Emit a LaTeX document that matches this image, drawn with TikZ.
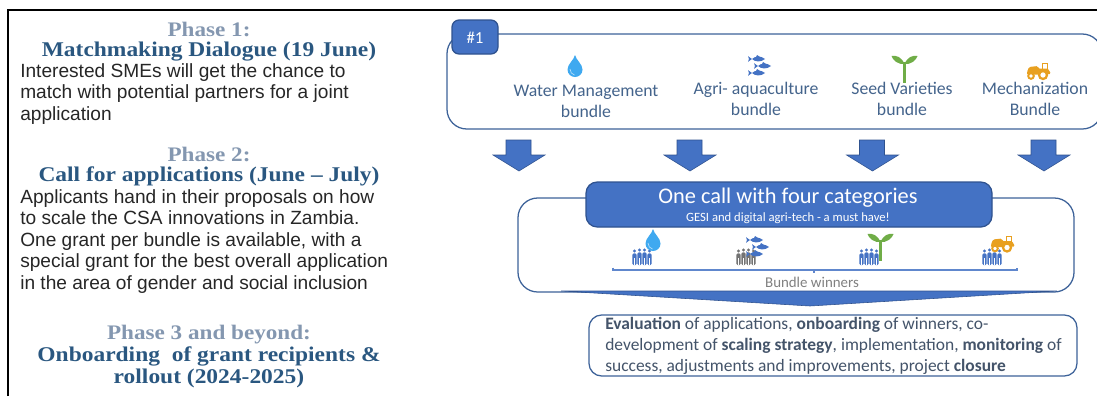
\documentclass[tikz,border=0pt]{standalone}
\usepackage{fontspec}
\setmainfont{Liberation Sans}
\newfontfamily\headingfont[FakeStretch=1.12]{Liberation Serif}
\newfontfamily\calibrifont{Carlito}
\usetikzlibrary{calc}

\definecolor{framecol}{HTML}{000000}
\definecolor{phasecol}{HTML}{8497B0}
\definecolor{titlecol}{HTML}{2A5780}
\definecolor{bodycol}{HTML}{262626}
\definecolor{boxedge}{HTML}{3D6299}
\definecolor{bannerfill}{HTML}{4472C4}
\definecolor{banneredge}{HTML}{2F528F}
\definecolor{bundlecol}{HTML}{44648C}
\definecolor{summarycol}{HTML}{44546A}
\definecolor{dropcol}{HTML}{3FA9F0}
\definecolor{sproutcol}{HTML}{70AD47}
\definecolor{tractorcol}{HTML}{E8A020}

\tikzset{
	phasehead/.style={font=\headingfont\bfseries\fontsize{14.7}{15.3}\selectfont, color=phasecol, align=center, inner sep=0},
	phasetitle/.style={font=\headingfont\bfseries\fontsize{14.9}{15.3}\selectfont, color=titlecol, align=center, inner sep=0},
	phasebody/.style={font=\fontsize{13.6}{15.3}\selectfont, color=bodycol, align=left, anchor=west, inner sep=0},
	bundlelabel/.style={font=\calibrifont\fontsize{12.6}{15}\selectfont, color=bundlecol, align=center, inner sep=0},
	roundbox/.style={draw=boxedge, line width=0.9pt, fill=white},
	bluebanner/.style={draw=banneredge, line width=0.9pt, fill=bannerfill},
	blockarrow/.style={draw=banneredge, line width=0.4pt, fill=bannerfill}
}

\def\bundlearrow(#1){\draw[blockarrow] ({#1-13}, 140) -- ({#1+12}, 140) -- ({#1+12}, 155) -- ({#1+26}, 155) -- (#1, 171) -- ({#1-26}, 155) -- ({#1-13}, 155) -- cycle;}

\def\dropicon(#1,#2){\begin{scope}[shift={(#1,#2)}]
	\fill[dropcol] (0, 0) .. controls (1, 5) and (7.5, 9) .. (7.5, 14.5) .. controls (7.5, 19) and (4, 22) .. (0, 22) .. controls (-4, 22) and (-7.5, 19) .. (-7.5, 14.5) .. controls (-7.5, 9) and (-1, 5) .. (0, 0) -- cycle;
	\draw[white!60!dropcol, line width=0.5pt] (-5, 14) .. controls (-5, 17) and (-3, 19.5) .. (-0.5, 20);
\end{scope}}

\def\onefish(#1,#2){\begin{scope}[shift={(#1,#2)}]
	\fill[bannerfill] (8, 0) .. controls (4, -3.5) and (-2, -3) .. (-5, 0) -- (-9, -2.8) -- (-8, 0) -- (-9, 2.8) -- (-5, 0) .. controls (-2, 3) and (4, 3.5) .. (8, 0) -- cycle;
	\fill[bannerfill] (-1, -2) -- (0, -4) -- (3, -2) -- cycle;
\end{scope}}

\def\fishicon(#1,#2){\onefish(#1-2,#2-7) \onefish(#1+4,#2) \onefish(#1-2,#2+7)}

\def\sprouticon(#1,#2){\begin{scope}[shift={(#1,#2)}]
	\draw[sproutcol, line width=1.6pt] (0, 7) -- (0, 28);
	\fill[sproutcol] (0, 9) .. controls (-3, 2) and (-8, 0) .. (-13, 1) .. controls (-12, 5) and (-6, 10) .. (0, 9) -- cycle;
	\fill[sproutcol] (0, 9) .. controls (3, 2) and (8, 0) .. (13, 1) .. controls (12, 5) and (6, 10) .. (0, 9) -- cycle;
\end{scope}}

\def\tractoricon(#1,#2){\begin{scope}[shift={(#1,#2)}]
	\draw[tractorcol, line width=0.7pt] (4, -2) -- (4, -7.5) -- (9, -7.5) -- (9, -2);
	\fill[tractorcol, rounded corners=1] (-11, 1) -- (-9, -4) -- (0, -5) -- (0, -2.5) -- (10, -2.5) -- (13, 3) -- (-11, 4) -- cycle;
	\draw[tractorcol, fill=white, line width=1.4pt] (-7, 5) circle (2.8);
	\draw[tractorcol, fill=white, line width=1.6pt] (5, 4) circle (4);
\end{scope}}

\def\peopleicon(#1,#2)#3{\begin{scope}[shift={(#1,#2)}]
	\foreach \posx/\high in {-7.5/0, -2.5/-1, 2.5/-1, 7.5/0} {
		\fill[#3] (\posx, {\high-6}) circle (1.7);
		\fill[#3, rounded corners=1] ({\posx-2.2}, {\high-3.6}) rectangle ({\posx+2.2}, 8);
		\draw[white, line width=0.3pt] (\posx, 1) -- (\posx, 8);
	}
\end{scope}}

\begin{document}
\begin{tikzpicture}[x=0.025cm, y=-0.025cm]
	\useasboundingbox (0, 0) rectangle (1097, 396);

	%%%%% LEFT COLUMN %%%%%

	\node[phasehead] (phaseone) at (209, 29) {Phase 1:};
	\node[phasetitle] (titleone) at (209, 51.5) {Matchmaking Dialogue (19 June)};
	\node[phasebody] (bodyone) at (20, 94) {Interested SMEs will get the chance to\\match with potential partners for a joint\\application};

	\node[phasehead] (phasetwo) at (209, 154) {Phase 2:};
	\node[phasetitle] (titletwo) at (209, 176.5) {Call for applications (June – July)};
	\node[phasebody] (bodytwo) at (20, 241.5) {Applicants hand in their proposals on how\\to scale the CSA innovations in Zambia.\\One grant per bundle is available, with a\\special grant for the best overall application\\in the area of gender and social inclusion};

	\node[phasehead] (phasethree) at (209, 335) {Phase 3 and beyond:};
	\node[phasetitle] (titlethree) at (209, 367.5) {Onboarding\ \ of grant recipients \&\\rollout (2024-2025)};

	%%%%% BUNDLES %%%%%

	\draw[roundbox, rounded corners=14] (447, 34) rectangle (1102, 129);
	\draw[bluebanner, rounded corners=5] (452, 20) rectangle (498, 54);
	\node[font=\calibrifont\fontsize{12}{15}\selectfont, color=white, inner sep=0] (badge) at (475, 38) {\#1};

	\dropicon(575,55)
	\fishicon(759,66)
	\sprouticon(904.5,55)
	\tractoricon(1038,71)

	\node[bundlelabel] (waterlabel) at (586, 101.5) {Water Management\\bundle};
	\node[bundlelabel] (fishlabel) at (756, 98.5) {Agri- aquaculture\\bundle};
	\node[bundlelabel] (seedlabel) at (902, 98.5) {Seed Varieties\\bundle};
	\node[bundlelabel] (machinelabel) at (1035, 98.5) {Mechanization\\Bundle};

	\bundlearrow(519)
	\bundlearrow(690)
	\bundlearrow(872.5)
	\bundlearrow(1044)

	%%%%% CALL %%%%%

	\draw[roundbox, rounded corners=14] (518, 198) rectangle (1074, 292);
	\draw[bluebanner, rounded corners=8] (586, 182) rectangle (992, 227);
	\node[font=\calibrifont\fontsize{15.9}{15}\selectfont, color=white, inner sep=0] (calltitle) at (788, 198) {One call with four categories};
	\node[font=\calibrifont\fontsize{9}{10}\selectfont, color=white, inner sep=0] (callnote) at (788, 218) {GESI and digital agri-tech - a must have!};

	\peopleicon(642,257){bannerfill}
	\dropicon(653,229)
	\peopleicon(746,257){black!55}
	\fishicon(757,247)
	\peopleicon(869,257){bannerfill}
	\sprouticon(880.5,233)
	\peopleicon(992,257){bannerfill}
	\tractoricon(1002,243.5)

	\draw[bannerfill!85!white, line width=1.1pt] (613, 267.5) -- (613, 270) -- (1017, 270) -- (1017, 267.5);
	\draw[bannerfill!85!white, line width=1.1pt] (814, 270) -- (814, 272.5);
	\node[font=\calibrifont\fontsize{10.6}{11}\selectfont, color=black!50, inner sep=0] (winners) at (812, 282) {Bundle winners};

	\draw[blockarrow] (561, 291) -- (1057, 291) -- (810, 306) -- cycle;

	%%%%% SUMMARY %%%%%

	\draw[roundbox, rounded corners=9] (589, 315) rectangle (1077, 376);
	\node[font=\calibrifont\fontsize{12.4}{15}\selectfont, color=summarycol, align=left, anchor=west, inner sep=0] (summary) at (605, 346) {\textbf{Evaluation} of applications, \textbf{onboarding} of winners, co-\\development of \textbf{scaling strategy}, implementation, \textbf{monitoring} of\\success, adjustments and improvements, project \textbf{closure}};

	%%%%% FRAME %%%%%

	\draw[framecol, line width=1.5pt] (8, 396) -- (8, 10) -- (1097, 10);
\end{tikzpicture}
\end{document}
